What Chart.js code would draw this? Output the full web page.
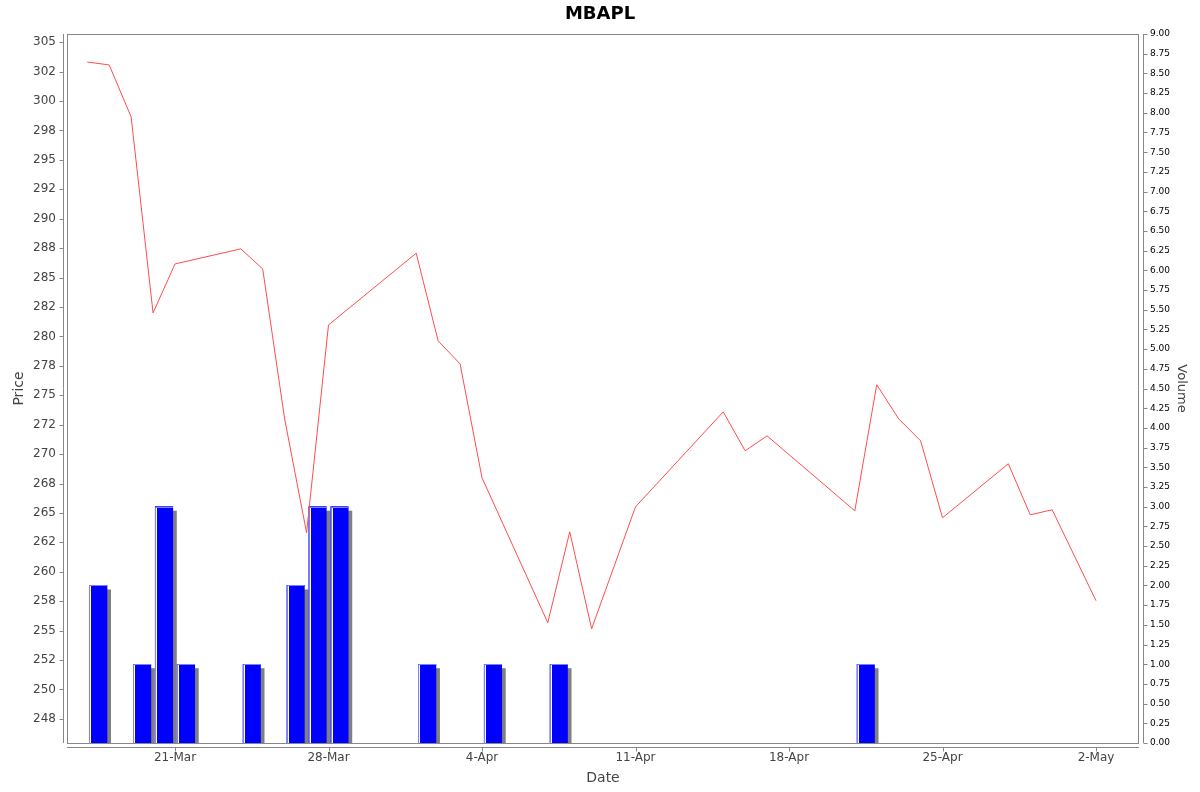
<!DOCTYPE html>
<html>
<head>
<meta charset="utf-8">
<title>MBAPL</title>
<script src="https://cdn.jsdelivr.net/npm/chart.js@4.4.1/dist/chart.umd.min.js"></script>
<style>
  html, body { margin: 0; padding: 0; background: #fff; }
  #wrap { width: 1200px; height: 792px; }
</style>
</head>
<body>
<div id="wrap"><canvas id="chart-area" width="1200" height="792"></canvas></div>
<script>
// trading days and closing price
var dates = [
  '2014-03-17', '2014-03-18', '2014-03-19', '2014-03-20', '2014-03-21',
  '2014-03-24', '2014-03-25', '2014-03-26', '2014-03-27', '2014-03-28',
  '2014-04-01', '2014-04-02', '2014-04-03', '2014-04-04',
  '2014-04-07', '2014-04-08', '2014-04-09', '2014-04-11',
  '2014-04-15', '2014-04-16', '2014-04-17',
  '2014-04-21', '2014-04-22', '2014-04-23', '2014-04-24', '2014-04-25',
  '2014-04-28', '2014-04-29', '2014-04-30', '2014-05-02'
];
var prices = [
  303.32, 303.07, 298.65, 282.00, 286.16,
  287.44, 285.74, 272.99, 263.32, 280.98,
  287.07, 279.62, 277.67, 267.99,
  255.67, 263.40, 255.16, 265.52,
  273.59, 270.28, 271.55,
  265.18, 275.89, 273.00, 271.13, 264.59,
  269.18, 264.84, 265.27, 257.54
];

// days with volume
var volumeDates = [
  '2014-03-17', '2014-03-19', '2014-03-20', '2014-03-21', '2014-03-24',
  '2014-03-26', '2014-03-27', '2014-03-28', '2014-04-01', '2014-04-04',
  '2014-04-07', '2014-04-21'
];
var volumes = [2, 1, 3, 1, 1, 2, 3, 3, 1, 1, 1, 1];

// weekly date ticks
var tickDates = ['2014-03-21', '2014-03-28', '2014-04-04', '2014-04-11',
                 '2014-04-18', '2014-04-25', '2014-05-02'];
var months = ['Jan', 'Feb', 'Mar', 'Apr', 'May', 'Jun',
              'Jul', 'Aug', 'Sep', 'Oct', 'Nov', 'Dec'];

function dayOf(s) {
  return Date.parse(s + 'T00:00:00Z') / 86400000;
}

function dayLabel(v) {
  var d = new Date(Math.round(v) * 86400000);
  return d.getUTCDate() + '-' + months[d.getUTCMonth()];
}

// 302.5 -> 302, 297.5 -> 298 (half to even)
function priceLabel(v) {
  var f = Math.floor(v);
  if (Math.abs(v - f - 0.5) < 1e-6) {
    return String(f % 2 === 0 ? f : f + 1);
  }
  return String(Math.round(v));
}

var AXIS = '#888888';

// plot outline, offset axis lines and tick marks
var frame = {
  id: 'frame',
  afterDraw: function(chart) {
    var ctx = chart.ctx;
    var a = chart.chartArea;
    ctx.save();
    ctx.strokeStyle = AXIS;
    ctx.lineWidth = 1;
    ctx.strokeRect(a.left + 0.5, a.top + 0.5, a.right - a.left - 1, a.bottom - a.top);

    ctx.beginPath();
    // left axis
    var lx = a.left - 3.5;
    ctx.moveTo(lx, a.top);
    ctx.lineTo(lx, a.bottom);
    chart.scales.y.ticks.forEach(function(t) {
      var py = Math.round(chart.scales.y.getPixelForValue(t.value)) + 0.5;
      ctx.moveTo(lx - 4, py);
      ctx.lineTo(lx, py);
    });
    // right axis
    var rx = a.right + 4.5;
    ctx.moveTo(rx, a.top);
    ctx.lineTo(rx, a.bottom);
    chart.scales.y1.ticks.forEach(function(t) {
      var py = Math.round(chart.scales.y1.getPixelForValue(t.value)) + 0.5;
      ctx.moveTo(rx, py);
      ctx.lineTo(rx + 4, py);
    });
    // bottom axis
    var by = a.bottom + 4.5;
    ctx.moveTo(a.left, by);
    ctx.lineTo(a.right, by);
    chart.scales.x.ticks.forEach(function(t) {
      var px = Math.round(chart.scales.x.getPixelForValue(t.value)) + 0.5;
      ctx.moveTo(px, by);
      ctx.lineTo(px, by + 4);
    });
    ctx.stroke();
    ctx.restore();
  }
};

// gray drop shadow behind volume bars and a light edge on them
var barShade = {
  id: 'barShade',
  beforeDatasetDraw: function(chart, args) {
    if (chart.data.datasets[args.index].type !== 'bar') return;
    var ctx = chart.ctx;
    var a = chart.chartArea;
    ctx.save();
    ctx.beginPath();
    ctx.rect(a.left, a.top, a.right - a.left, a.bottom - a.top);
    ctx.clip();
    ctx.fillStyle = '#808080';
    args.meta.data.forEach(function(el) {
      var p = el.getProps(['x', 'y', 'base', 'width'], true);
      ctx.fillRect(p.x - p.width / 2 + 4, p.y + 4, p.width, p.base - p.y);
    });
    ctx.restore();
  },
  afterDatasetDraw: function(chart, args) {
    if (chart.data.datasets[args.index].type !== 'bar') return;
    var ctx = chart.ctx;
    ctx.save();
    ctx.lineWidth = 1;
    args.meta.data.forEach(function(el) {
      var p = el.getProps(['x', 'y', 'base', 'width'], true);
      var x0 = Math.round(p.x - p.width / 2);
      var x1 = Math.round(p.x + p.width / 2);
      var y0 = Math.round(p.y);
      ctx.strokeStyle = '#7f7fff';
      ctx.beginPath();
      ctx.moveTo(x0 + 0.5, p.base);
      ctx.lineTo(x0 + 0.5, y0 + 0.5);
      ctx.lineTo(x1, y0 + 0.5);
      ctx.stroke();
      ctx.strokeStyle = '#ffffff';
      ctx.beginPath();
      ctx.moveTo(x0 + 1.5, p.base);
      ctx.lineTo(x0 + 1.5, y0 + 1);
      ctx.stroke();
    });
    ctx.restore();
  }
};

Chart.defaults.font.family = "'DejaVu Sans', sans-serif";

var lineData = dates.map(function(d, i) { return { x: dayOf(d), y: prices[i] }; });
var barData = volumeDates.map(function(d, i) { return { x: dayOf(d) + 0.5, y: volumes[i] }; });

var config = {
  data: {
    datasets: [{
      type: 'line',
      label: 'Price',
      data: lineData,
      yAxisID: 'y',
      borderColor: '#ff4d4d',
      borderWidth: 1,
      pointRadius: 0,
      tension: 0,
      fill: false
    }, {
      type: 'bar',
      label: 'Volume',
      data: barData,
      yAxisID: 'y1',
      backgroundColor: '#0000ff',
      borderWidth: 0,
      barThickness: 17.5,
      grouped: false
    }]
  },
  options: {
    responsive: false,
    animation: false,
    events: [],
    layout: { padding: 0 },
    plugins: {
      legend: { display: false },
      tooltip: { enabled: false },
      title: {
        display: true,
        text: 'MBAPL',
        color: '#000',
        font: { size: 18, weight: 'bold' },
        padding: { top: 4, bottom: 8.4 }
      }
    },
    scales: {
      x: {
        type: 'linear',
        position: 'bottom',
        offset: false,
        min: dayOf(dates[0]) - 0.925,
        max: dayOf(dates[dates.length - 1]) + 1.96,
        grid: { display: false, drawTicks: false, offset: false },
        border: { display: false },
        afterBuildTicks: function(scale) {
          scale.ticks = tickDates.map(function(d) { return { value: dayOf(d) }; });
        },
        afterFit: function(scale) { scale.height = 49; },
        ticks: {
          color: '#444',
          font: { size: 12 },
          padding: 8,
          maxRotation: 0,
          autoSkip: false,
          callback: function(v) { return dayLabel(v); }
        },
        title: {
          display: true,
          text: 'Date',
          color: '#444',
          font: { size: 14 },
          padding: { top: 0, bottom: 5 }
        }
      },
      y: {
        type: 'linear',
        position: 'left',
        min: 245.45,
        max: 305.7,
        grid: { display: false, drawTicks: false },
        border: { display: false },
        afterFit: function(scale) { scale.width = 67; },
        ticks: {
          stepSize: 2.5,
          includeBounds: false,
          autoSkip: false,
          color: '#444',
          font: { size: 12 },
          padding: 11,
          callback: function(v) { return priceLabel(v); }
        },
        title: {
          display: true,
          text: 'Price',
          color: '#444',
          font: { size: 14 },
          padding: { top: 11, bottom: 0 }
        }
      },
      y1: {
        type: 'linear',
        position: 'right',
        min: 0,
        max: 9,
        grid: { display: false, drawTicks: false },
        border: { display: false },
        afterFit: function(scale) { scale.width = 61; },
        ticks: {
          stepSize: 0.25,
          includeBounds: false,
          autoSkip: false,
          color: '#000',
          font: { size: 9 },
          padding: 11,
          callback: function(v) { return v.toFixed(2); }
        },
        title: {
          display: true,
          text: 'Volume',
          color: '#444',
          font: { size: 13 },
          padding: { top: 11, bottom: 0 }
        }
      }
    }
  },
  plugins: [barShade, frame]
};

window.onload = function() {
  var ctx = document.getElementById('chart-area').getContext('2d');
  window.priceChart = new Chart(ctx, config);
};
</script>
</body>
</html>
